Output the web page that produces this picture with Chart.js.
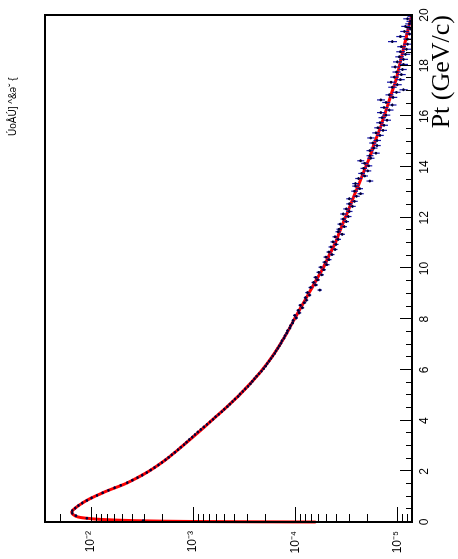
<!DOCTYPE html>
<html><head><meta charset="utf-8">
<script src="https://cdn.jsdelivr.net/npm/chart.js@4.4.1/dist/chart.umd.min.js"></script>
<style>
html,body{margin:0;padding:0;background:#fff;overflow:hidden;}
#wrap{position:absolute;left:0;top:0;width:559px;height:458px;transform-origin:0 0;transform:translate(0px,559px) rotate(-90deg);background:#fff;}
canvas{display:block;}
</style></head><body>
<div id="wrap"><canvas id="c" width="559" height="458"></canvas></div>
<script>
const xTitle = "Pt (GeV/c)";
const cornerText = "ÚoÅÚ] ^&ǝ˘ {";
const yTickValues = [1e-5, 1e-4, 1e-3, 1e-2];
const yTickLabels = ["10\u207B\u2075", "10\u207B\u2074", "10\u207B\u00B3", "10\u207B\u00B2"];
const binWidth = 0.1;
const ptBins = Array.from({length: 200}, (_, i) => +(binWidth / 2 + binWidth * i).toFixed(2));
const yieldValues = [
  3.09e-3, 1.10e-2, 1.41e-2, 1.53e-2, 1.53e-2, 1.43e-2, 1.33e-2, 1.22e-2, 1.10e-2, 9.89e-3,
  8.77e-3, 7.71e-3, 6.76e-3, 5.89e-3, 5.13e-3, 4.42e-3, 3.94e-3, 3.51e-3, 3.16e-3, 2.85e-3,
  2.61e-3, 2.39e-3, 2.19e-3, 2.02e-3, 1.87e-3, 1.74e-3, 1.62e-3, 1.51e-3, 1.41e-3, 1.32e-3,
  1.23e-3, 1.16e-3, 1.09e-3, 1.02e-3, 9.60e-4, 9.00e-4, 8.41e-4, 7.85e-4, 7.33e-4, 6.84e-4,
  6.38e-4, 6.03e-4, 5.62e-4, 5.25e-4, 4.95e-4, 4.62e-4, 4.37e-4, 4.12e-4, 3.89e-4, 3.63e-4,
  3.47e-4, 3.27e-4, 3.09e-4, 2.90e-4, 2.75e-4, 2.63e-4, 2.51e-4, 2.39e-4, 2.26e-4, 2.14e-4,
  2.04e-4, 1.95e-4, 1.88e-4, 1.80e-4, 1.73e-4, 1.66e-4, 1.59e-4, 1.54e-4, 1.48e-4, 1.43e-4,
  1.38e-4, 1.35e-4, 1.29e-4, 1.26e-4, 1.21e-4, 1.19e-4, 1.13e-4, 1.11e-4, 1.06e-4, 1.05e-4,
  9.77e-5, 1.01e-4, 9.12e-5, 9.33e-5, 8.51e-5, 8.91e-5, 8.13e-5, 7.76e-5, 7.94e-5, 7.24e-5,
  7.59e-5, 5.75e-5, 7.08e-5, 6.31e-5, 6.61e-5, 6.03e-5, 6.31e-5, 5.50e-5, 5.89e-5, 5.25e-5,
  5.62e-5, 4.90e-5, 5.13e-5, 4.68e-5, 5.01e-5, 4.37e-5, 4.68e-5, 4.07e-5, 4.47e-5, 3.98e-5,
  4.27e-5, 3.80e-5, 4.07e-5, 3.47e-5, 3.80e-5, 3.72e-5, 3.31e-5, 3.63e-5, 3.16e-5, 3.39e-5,
  3.02e-5, 3.39e-5, 2.95e-5, 3.16e-5, 2.75e-5, 2.95e-5, 2.63e-5, 2.95e-5, 2.51e-5, 2.29e-5,
  2.63e-5, 2.34e-5, 2.57e-5, 2.57e-5, 1.86e-5, 2.40e-5, 2.09e-5, 2.24e-5, 1.95e-5, 2.14e-5,
  1.91e-5, 2.09e-5, 2.29e-5, 1.82e-5, 1.86e-5, 1.62e-5, 1.86e-5, 1.70e-5, 1.58e-5, 1.74e-5,
  1.58e-5, 1.82e-5, 1.48e-5, 1.62e-5, 1.38e-5, 1.55e-5, 1.35e-5, 1.48e-5, 1.26e-5, 1.41e-5,
  1.29e-5, 1.45e-5, 1.20e-5, 1.35e-5, 1.12e-5, 1.29e-5, 1.45e-5, 1.10e-5, 1.20e-5, 1.02e-5,
  8.71e-6, 1.12e-5, 1.00e-5, 1.15e-5, 9.33e-6, 1.07e-5, 9.12e-6, 1.02e-5, 8.91e-6, 1.05e-5,
  8.71e-6, 1.00e-5, 8.71e-6, 9.55e-6, 8.32e-6, 9.33e-6, 8.13e-6, 9.12e-6, 7.94e-6, 1.12e-5,
  7.94e-6, 9.33e-6, 7.59e-6, 8.51e-6, 7.41e-6, 8.32e-6, 7.59e-6, 7.41e-6, 7.94e-6, 7.24e-6
];
const relErrByGeV = [0.004, 0.004, 0.005, 0.008, 0.01, 0.015, 0.02, 0.03, 0.04, 0.05,
                     0.055, 0.06, 0.07, 0.075, 0.08, 0.085, 0.09, 0.095, 0.1, 0.1];
const fitPt = [0, 0.02, 0.05, 0.1, 0.15, 0.2, 0.3, 0.4, 0.5, 0.6, 0.7, 0.8, 0.9, 1.0, 1.1, 1.25,
  1.5, 1.75, 2.0, 2.25, 2.5, 3.0, 3.5, 4.0, 4.5, 5.0, 5.5, 6.0, 6.5, 7.0, 7.5, 8.0, 8.5, 9.0, 9.5,
  10.0, 10.5, 11.0, 11.5, 12.0, 12.5, 13.0, 13.5, 14.0, 14.5, 15.0, 15.5, 16.0, 16.5, 17.0,
  17.5, 18.0, 18.5, 19.0, 19.5, 20.0];
const fitVal = [6.3e-5, 1.0e-3, 3.55e-3, 7.94e-3, 1.12e-2, 1.35e-2, 1.51e-2, 1.55e-2, 1.48e-2,
  1.38e-2, 1.27e-2, 1.16e-2, 1.05e-2, 9.33e-3, 8.22e-3, 6.76e-3, 4.68e-3, 3.51e-3, 2.72e-3,
  2.19e-3, 1.80e-3, 1.27e-3, 9.12e-4, 6.61e-4, 4.79e-4, 3.55e-4, 2.71e-4, 2.11e-4, 1.70e-4,
  1.41e-4, 1.19e-4, 1.02e-4, 8.71e-5, 7.41e-5, 6.31e-5, 5.37e-5, 4.68e-5, 4.07e-5, 3.63e-5,
  3.24e-5, 2.88e-5, 2.57e-5, 2.29e-5, 2.04e-5, 1.82e-5, 1.66e-5, 1.48e-5, 1.35e-5, 1.23e-5,
  1.12e-5, 1.02e-5, 9.55e-6, 8.91e-6, 8.32e-6, 7.76e-6, 7.24e-6];

const deco = {
  id: 'deco',
  afterDatasetDraw(chart, args) {
    if (args.index !== 1) return;
    const ctx = chart.ctx, xs = chart.scales.x, ys = chart.scales.y, ca = chart.chartArea;
    ctx.save();
    ctx.beginPath();
    ctx.rect(ca.left, ca.top, ca.right - ca.left, ca.bottom - ca.top);
    ctx.clip();
    ctx.strokeStyle = '#1414a8';
    ctx.lineWidth = 1.2;
    ptBins.forEach((p, i) => {
      const v = yieldValues[i];
      const e = relErrByGeV[Math.min(19, Math.floor(p))];
      const px = xs.getPixelForValue(p), py = ys.getPixelForValue(v);
      ctx.beginPath();
      ctx.moveTo(px, ys.getPixelForValue(v * (1 + e)));
      ctx.lineTo(px, ys.getPixelForValue(v * (1 - e)));
      ctx.moveTo(xs.getPixelForValue(p - binWidth / 2), py);
      ctx.lineTo(xs.getPixelForValue(p + binWidth / 2), py);
      ctx.stroke();
    });
    ctx.restore();
  },
  afterDraw(chart) {
    const ctx = chart.ctx, xs = chart.scales.x, ys = chart.scales.y, ca = chart.chartArea;
    ctx.save();
    ctx.strokeStyle = '#000';
    ctx.lineWidth = 1;
    ctx.beginPath();
    for (let i = 0; i <= 40; i++) {
      const p = i * 0.5;
      const px = Math.round(xs.getPixelForValue(p)) + 0.5;
      const len = (i % 4 === 0) ? 12 : 6;
      ctx.moveTo(px, ca.bottom);
      ctx.lineTo(px, ca.bottom - len);
    }
    for (let e = -6; e <= -1; e++) {
      for (let m = 1; m <= 9; m++) {
        const v = m * Math.pow(10, e);
        if (v < ys.min || v > ys.max) continue;
        const py = Math.round(ys.getPixelForValue(v)) + 0.5;
        const len = m === 1 ? 15 : 8;
        ctx.moveTo(ca.left, py);
        ctx.lineTo(ca.left + len, py);
      }
    }
    ctx.stroke();
    ctx.lineWidth = 2;
    ctx.strokeRect(ca.left, ca.top, ca.right - ca.left, ca.bottom - ca.top);
    ctx.fillStyle = '#000';
    ctx.font = '10px "Liberation Sans"';
    ctx.textAlign = 'left';
    ctx.textBaseline = 'middle';
    ctx.fillText(cornerText, 423, 13);
    ctx.restore();
  }
};

new Chart(document.getElementById('c'), {
  type: 'scatter',
  data: {
    datasets: [
      {
        label: 'data',
        data: ptBins.map((p, i) => ({x: p, y: yieldValues[i]})),
        showLine: false,
        pointRadius: 1.3,
        pointBackgroundColor: '#000033',
        pointBorderWidth: 0,
        order: 0
      },
      {
        label: 'fit',
        data: fitPt.map((p, i) => ({x: p, y: fitVal[i]})),
        showLine: true,
        borderColor: '#ff0000',
        borderWidth: 3,
        pointRadius: 0,
        tension: 0.3,
        clip: 6,
        order: 1
      }
    ]
  },
  options: {
    responsive: false,
    animation: false,
    devicePixelRatio: 1,
    layout: {padding: {left: 0, top: 45, right: 15, bottom: 0}},
    plugins: {legend: {display: false}, tooltip: {enabled: false}},
    scales: {
      x: {
        type: 'linear', min: 0, max: 20, position: 'bottom',
        grid: {display: false, drawTicks: false},
        border: {display: false},
        title: {display: true, text: xTitle, align: 'end', color: '#000',
                font: {family: 'Liberation Serif', size: 26}, padding: {top: 0, bottom: 0}},
        ticks: {stepSize: 2, autoSkip: false, maxRotation: 0, padding: 5, color: '#000',
                font: {family: 'Liberation Sans', size: 12}},
        afterFit(s) { s.height = 46; }
      },
      y: {
        type: 'logarithmic', min: 7.18e-6, max: 0.0283, position: 'left',
        grid: {display: false, drawTicks: false},
        border: {display: false},
        afterBuildTicks(s) { s.ticks = yTickValues.map(v => ({value: v})); },
        ticks: {
          autoSkip: false, padding: 9, color: '#000',
          font: {family: 'Liberation Sans', size: 12},
          callback: (v) => { const i = yTickValues.indexOf(v); return i >= 0 ? yTickLabels[i] : ''; }
        },
        afterFit(s) { s.width = 37; }
      }
    }
  },
  plugins: [deco]
});
</script>
</body></html>
